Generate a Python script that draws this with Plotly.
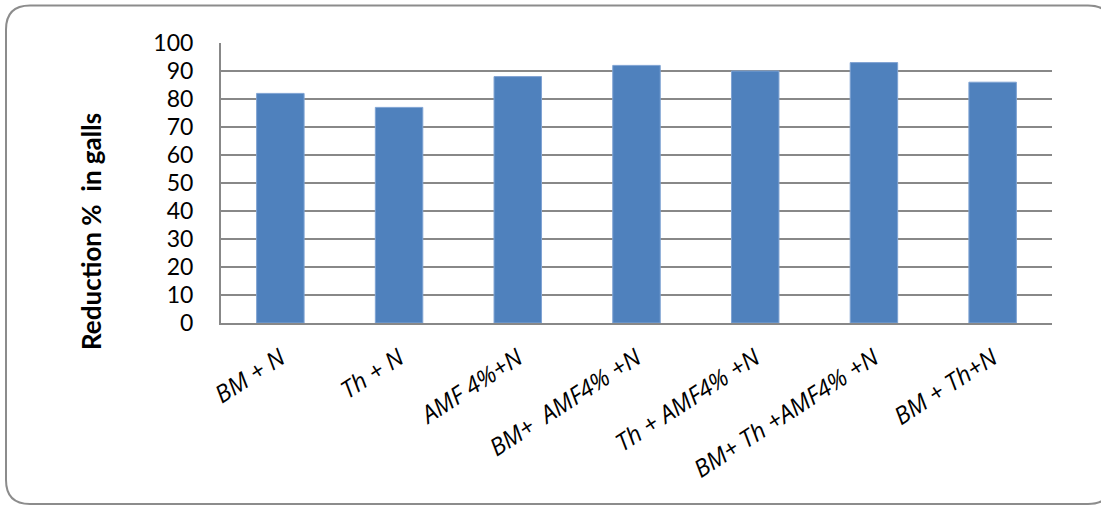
import plotly.graph_objects as go

# Treatments and percentage reduction in galls
treatments = ["BM + N", "Th + N", "AMF 4%+N", "BM+  AMF4% +N",
              "Th + AMF4% +N", "BM+ Th +AMF4% +N", "BM + Th+N"]
reduction = [82, 77, 88, 92, 90, 93, 86]
y_ticks = [0, 10, 20, 30, 40, 50, 60, 70, 80, 90, 100]

W, H = 1101, 505
ML, MR, MT, MB = 221, 49, 43, 182
PW, PH = W - ML - MR, H - MT - MB


def px(x):
    return (x - ML) / PW


def py(y):
    return (H - MB - y) / PH


def rounded_box(x0, y0, x1, y1, r):
    pts = [
        f"M {px(x0 + r)} {py(y0)}",
        f"L {px(x1 - r)} {py(y0)}",
        f"Q {px(x1)} {py(y0)} {px(x1)} {py(y0 + r)}",
        f"L {px(x1)} {py(y1 - r)}",
        f"Q {px(x1)} {py(y1)} {px(x1 - r)} {py(y1)}",
        f"L {px(x0 + r)} {py(y1)}",
        f"Q {px(x0)} {py(y1)} {px(x0)} {py(y1 - r)}",
        f"L {px(x0)} {py(y0 + r)}",
        f"Q {px(x0)} {py(y0)} {px(x0 + r)} {py(y0)}",
        "Z",
    ]
    return " ".join(pts)


font_family = "Lato, 'Open Sans', sans-serif"
cat_family = "Open Sans, Liberation Sans, sans-serif"

fig = go.Figure(
    go.Bar(
        x=treatments,
        y=reduction,
        marker=dict(color="#4F81BD", line=dict(color="#7FA3D3", width=1)),
        width=0.4,
    )
)

fig.update_layout(
    width=W,
    height=H,
    margin=dict(l=ML, r=MR, t=MT, b=MB, pad=0),
    paper_bgcolor="white",
    plot_bgcolor="white",
    showlegend=False,
    font=dict(family=font_family, color="black"),
    shapes=[
        dict(
            type="path",
            xref="paper",
            yref="paper",
            path=rounded_box(6, 5.5, 1112, 504, 24),
            line=dict(color="#8c8c8c", width=2),
            layer="below",
        )
    ],
    annotations=[
        dict(
            text="<b>Reduction %  in galls</b>",
            xref="paper",
            yref="paper",
            x=px(91),
            y=py(232),
            xanchor="center",
            yanchor="middle",
            showarrow=False,
            textangle=-90,
            font=dict(size=26, family=font_family, color="black"),
        )
    ],
)

fig.update_yaxes(
    range=[0, 100],
    tickvals=y_ticks,
    ticktext=[str(v) for v in y_ticks],
    showgrid=True,
    gridcolor="#888888",
    gridwidth=2,
    showline=True,
    linecolor="#888888",
    linewidth=2,
    ticks="",
    ticklabelstandoff=21,
    tickfont=dict(size=23, family=font_family, color="black"),
    zeroline=False,
)

fig.update_xaxes(
    tickmode="array",
    tickvals=treatments,
    ticktext=[f"<i>{t}</i>" for t in treatments],
    showline=True,
    linecolor="#888888",
    linewidth=2,
    ticks="",
    tickangle=-33,
    ticklabelstandoff=10,
    tickfont=dict(size=24, family=cat_family, color="black"),
)

fig.write_html("out.html")
